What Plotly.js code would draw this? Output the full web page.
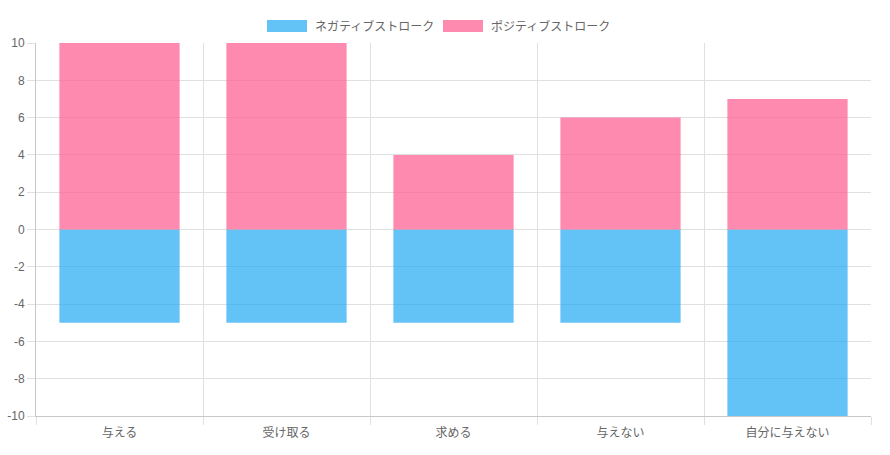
<!DOCTYPE html>
<html><head><meta charset="utf-8">
<script src="https://cdn.plot.ly/plotly-3.0.1.min.js"></script>
<style>html,body{margin:0;padding:0;background:#fff;}#chart{width:890px;height:455px;}</style>
</head><body><div id="chart"></div>
<script>
const categories = ["与える", "受け取る", "求める", "与えない", "自分に与えない"];
const seriesNames = ["ネガティブストローク", "ポジティブストローク"];
const negativeValues = [-5, -5, -5, -5, -10];
const positiveValues = [10, 10, 4, 6, 7];
const yTicks = [-10, -8, -6, -4, -2, 0, 2, 4, 6, 8, 10];

const blue = "rgba(33,170,242,0.70)";
const pink = "rgba(255,99,148,0.75)";
const font = "'Noto Sans CJK JP', 'Noto Sans', sans-serif";

const traces = [
  {type: "bar", name: seriesNames[0], x: categories, y: negativeValues, width: 0.72,
   marker: {color: blue, line: {width: 0}}, hoverinfo: "y"},
  {type: "bar", name: seriesNames[1], x: categories, y: positiveValues, width: 0.72,
   marker: {color: pink, line: {width: 0}}, hoverinfo: "y"}
];

const L = 36, R = 871, T = 43, B = 416;
const px = v => (v - L) / (R - L);
const py = v => (B - v) / (B - T);
const legendBoxes = [[267, blue, 313], [443, pink, 489]];

const shapes = [];
const annotations = [];
legendBoxes.forEach((b, i) => {
  shapes.push({type: "rect", xref: "paper", yref: "paper",
    x0: px(b[0]), x1: px(b[0] + 40), y0: py(32), y1: py(20),
    fillcolor: b[1], line: {width: 0}});
  annotations.push({xref: "paper", yref: "paper", x: px(b[2]), y: py(26),
    xanchor: "left", yanchor: "middle", showarrow: false, text: seriesNames[i],
    font: {family: font, size: 12, color: "#666"}});
});

const layout = {
  width: 890, height: 455,
  margin: {l: L, r: 890 - R, t: T, b: 455 - B, pad: 0},
  paper_bgcolor: "#fff", plot_bgcolor: "#fff",
  barmode: "relative", bargap: 0.28,
  showlegend: false,
  font: {family: font, size: 12, color: "#666"},
  xaxis: {type: "category", range: [-0.5, 4.5], tickson: "boundaries",
    ticks: "outside", ticklen: 8, tickcolor: "#e0e0e0", tickwidth: 1,
    ticklabelstandoff: 6,
    showgrid: true, gridcolor: "#e0e0e0", gridwidth: 1,
    showline: true, linecolor: "#c8c8c8", linewidth: 1,
    tickfont: {family: font, size: 12, color: "#666"}, fixedrange: true},
  yaxis: {range: [-10, 10], tickvals: yTicks, ticktext: yTicks.map(String),
    ticks: "outside", ticklen: 8, tickcolor: "#e0e0e0", tickwidth: 1,
    showgrid: true, gridcolor: "#e0e0e0", gridwidth: 1, zeroline: false,
    showline: true, linecolor: "#c8c8c8", linewidth: 1,
    tickfont: {family: "'Helvetica Neue', 'Liberation Sans', Arial, sans-serif", size: 12, color: "#666"}, fixedrange: true},
  shapes: shapes,
  annotations: annotations
};

Plotly.newPlot("chart", traces, layout, {displayModeBar: false, staticPlot: true});
</script></body></html>
